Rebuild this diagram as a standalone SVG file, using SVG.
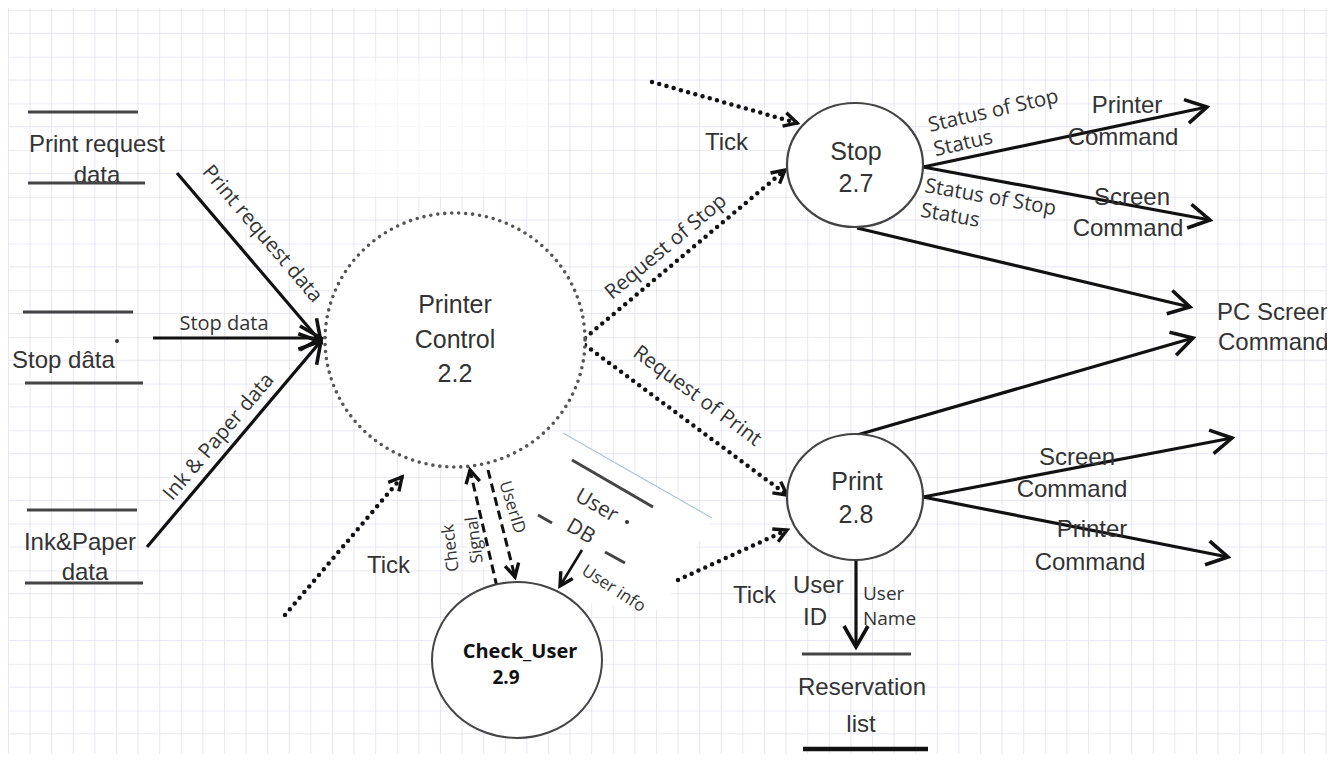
<svg xmlns="http://www.w3.org/2000/svg" width="1341" height="760" viewBox="0 0 1341 760">
<defs>
<pattern id="grid" patternUnits="userSpaceOnUse" x="8" y="10" width="21.6" height="46.7">
<path d="M0,0 H21.6 M0,0 V46.7" stroke="#d8d8ee" stroke-width="1.2" fill="none"/>
<path d="M0,23.35 H21.6" stroke="#e6e6f4" stroke-width="1" fill="none"/>
</pattern>
<marker id="ah" markerUnits="userSpaceOnUse" viewBox="0 0 26 28" markerWidth="26" markerHeight="28" refX="23" refY="14" orient="auto">
<path d="M2,2 L23,14 L2,26" fill="none" stroke="#111" stroke-width="3.6" stroke-linejoin="miter"/>
</marker>
<marker id="ahs" markerUnits="userSpaceOnUse" viewBox="0 0 18 18" markerWidth="18" markerHeight="18" refX="15" refY="9" orient="auto">
<path d="M2,2 L15,9 L2,16" fill="none" stroke="#111" stroke-width="3.4"/>
</marker>
<clipPath id="rclip"><rect x="0" y="0" width="1327" height="760"/></clipPath>
<style>
.st{stroke:#444;stroke-width:3;fill:none}
.big{font-family:"Liberation Sans",Arial,sans-serif;font-size:24px;fill:#333}
.nd{font-family:"Liberation Sans",Arial,sans-serif;font-size:25px;fill:#333;text-anchor:middle}
.lb{font-family:"Open Sans","DejaVu Sans",sans-serif;font-size:20.5px;fill:#333}
.sm{font-family:"Open Sans","DejaVu Sans",sans-serif;font-size:17px;fill:#333}
.solid{stroke:#111;stroke-width:3.2;fill:none;marker-end:url(#ah)}
.dot{stroke:#111;stroke-width:4.5;fill:none;stroke-dasharray:0 7.5;stroke-linecap:round;marker-end:url(#ahs)}
.dash{stroke:#111;stroke-width:3;fill:none;stroke-dasharray:9 5;marker-end:url(#ahs)}
.c{text-anchor:middle}
</style>
</defs>
<rect width="1341" height="760" fill="#fff"/>
<rect x="8" y="8" width="1319" height="746" fill="url(#grid)"/>
<rect x="358" y="62" width="190" height="135" fill="#fff" opacity="0.6"/>
<polygon points="478,466 563,433 712,518 662,610 560,600 466,560" fill="#fff"/>
<line x1="563" y1="433" x2="712" y2="518" stroke="#a9c4e0" stroke-width="1.2"/>

<g id="connectors">
<line class="solid" x1="177" y1="173" x2="321" y2="342"/>
<line class="solid" x1="153" y1="338" x2="321" y2="338"/>
<line class="solid" x1="147" y1="547" x2="321" y2="341"/>
<line class="solid" x1="923" y1="167" x2="1207" y2="107"/>
<line class="solid" x1="923" y1="167" x2="1210" y2="220"/>
<line class="solid" x1="857" y1="228" x2="1190" y2="307"/>
<line class="solid" x1="857" y1="435" x2="1193" y2="338"/>
<line class="solid" x1="923" y1="497" x2="1232" y2="438"/>
<line class="solid" x1="923" y1="497" x2="1228" y2="557"/>
<line class="solid" x1="856" y1="560" x2="856" y2="647"/>
<line x1="582" y1="550" x2="560" y2="586" stroke="#111" stroke-width="2.6" marker-end="url(#ahs)"/>
<line class="dot" x1="285" y1="615" x2="402" y2="477"/>
<line class="dot" x1="585" y1="338" x2="785" y2="170"/>
<line class="dot" x1="652" y1="82" x2="797" y2="123"/>
<line class="dot" x1="585" y1="345" x2="787" y2="495"/>
<line class="dot" x1="678" y1="580" x2="787" y2="530"/>
<line class="dash" x1="497" y1="587" x2="470" y2="470"/>
<line class="dash" x1="488" y1="470" x2="515" y2="577"/>
</g>

<g id="labels">
<text class="lb c" transform="translate(262,234) rotate(49.5)" y="6">Print request data</text>
<text class="lb c" style="font-size:20px" x="224" y="330">Stop data</text>
<text class="lb c" transform="translate(219,437) rotate(-49.8)" y="6">Ink &amp; Paper data</text>
<text class="lb c" transform="translate(666,247) rotate(-40)" y="6">Request of Stop</text>
<text class="lb c" transform="translate(697,396) rotate(36.5)" y="6">Request of Print</text>
<text class="lb" transform="translate(930,132) rotate(-13)">Status of Stop<tspan x="0" dy="25">Status</tspan></text>
<text class="lb" transform="translate(924,192) rotate(10)">Status of Stop<tspan x="0" dy="25">Status</tspan></text>
<text class="sm c" transform="translate(450,548) rotate(-97)" y="6">Check</text>
<text class="sm c" transform="translate(474,540) rotate(-97)" y="6">Signal</text>
<text class="sm c" transform="translate(513,507) rotate(73)" y="6">UserID</text>
<text class="sm c" transform="translate(614,588) rotate(33)" y="6">User info</text>
<text class="big" x="367" y="573">Tick</text>
<text class="big" x="705" y="150">Tick</text>
<text class="big" x="733" y="603">Tick</text>
<text class="big c" x="1127" y="113">Printer</text>
<text class="big c" x="1123" y="145">Command</text>
<text class="big c" x="1132" y="205">Screen</text>
<text class="big c" x="1128" y="236">Command</text>
<g clip-path="url(#rclip)">
<text class="big" x="1217" y="320">PC Screen</text>
<text class="big" x="1218" y="350">Command</text>
</g>
<text class="big c" x="1077" y="465">Screen</text>
<text class="big c" x="1072" y="497">Command</text>
<text class="big c" x="1092" y="537">Printer</text>
<text class="big c" x="1090" y="570">Command</text>
<text class="big" x="793" y="593">User</text>
<text class="big" x="803" y="625">ID</text>
<text class="lb" style="font-size:19px" x="863" y="600">User</text>
<text class="lb" style="font-size:19px" x="863" y="625">Name</text>
</g>

<g id="store-print-request">
<line class="st" x1="28" y1="112" x2="138" y2="112"/>
<text class="big c" x="97" y="152">Print request</text>
<text class="big c" x="97" y="183">data</text>
<line class="st" x1="28" y1="183" x2="145" y2="183"/>
</g>
<g id="store-stop-data">
<line class="st" x1="23" y1="312" x2="133" y2="312"/>
<text class="big" x="12" y="368">Stop dâta</text>
<circle cx="117" cy="341" r="2" fill="#333"/>
<line class="st" x1="25" y1="383" x2="143" y2="383"/>
</g>
<g id="store-ink-paper">
<line class="st" x1="27" y1="510" x2="137" y2="510"/>
<text class="big c" x="80" y="550">Ink&amp;Paper</text>
<text class="big c" x="85" y="580">data</text>
<line class="st" x1="25" y1="583" x2="143" y2="583"/>
</g>
<g id="node-printer-control">
<ellipse cx="455" cy="340" rx="130" ry="127" fill="#fff" stroke="#555" stroke-width="3.6" stroke-dasharray="0 7" stroke-linecap="round"/>
<text class="nd" x="455" y="313">Printer</text>
<text class="nd" x="455" y="348">Control</text>
<text class="nd" x="455" y="382">2.2</text>
</g>
<g id="node-stop">
<ellipse cx="855" cy="165" rx="68" ry="62" fill="#fff" stroke="#444" stroke-width="2.2"/>
<text class="nd" x="856" y="160">Stop</text>
<text class="nd" x="856" y="192">2.7</text>
</g>
<g id="node-print">
<ellipse cx="855" cy="497" rx="68" ry="63" fill="#fff" stroke="#444" stroke-width="2.2"/>
<text class="nd" x="857" y="490">Print</text>
<text class="nd" x="856" y="523">2.8</text>
</g>
<g id="node-check-user">
<ellipse cx="517" cy="660" rx="85" ry="78" fill="#fff" stroke="#444" stroke-width="2"/>
<text x="520" y="658" text-anchor="middle" style="font-family:'Open Sans','DejaVu Sans',sans-serif;font-size:20px;font-weight:bold;fill:#111">Check_User</text>
<text x="506" y="684" text-anchor="middle" style="font-family:'Open Sans','DejaVu Sans',sans-serif;font-size:19px;font-weight:bold;fill:#111">2.9</text>
</g>
<g id="store-user-db">
<line class="st" x1="572" y1="460" x2="653" y2="507" stroke="#555"/>
<text class="lb c" style="font-size:21px" transform="translate(597,505) rotate(30)" y="7">User</text>
<circle cx="627" cy="522" r="2" fill="#333"/>
<text class="lb c" style="font-size:21px" transform="translate(581,531) rotate(30)" y="7">DB</text>
<line class="st" x1="538" y1="515" x2="552" y2="523"/>
<line class="st" x1="605" y1="552" x2="625" y2="563"/>
</g>
<g id="store-reservation">
<line class="st" x1="802" y1="654" x2="911" y2="654" stroke="#333"/>
<text class="big c" x="862" y="695">Reservation</text>
<text class="big c" x="861" y="732">list</text>
<line x1="803" y1="749" x2="928" y2="749" stroke="#111" stroke-width="4.5"/>
</g>
</svg>
